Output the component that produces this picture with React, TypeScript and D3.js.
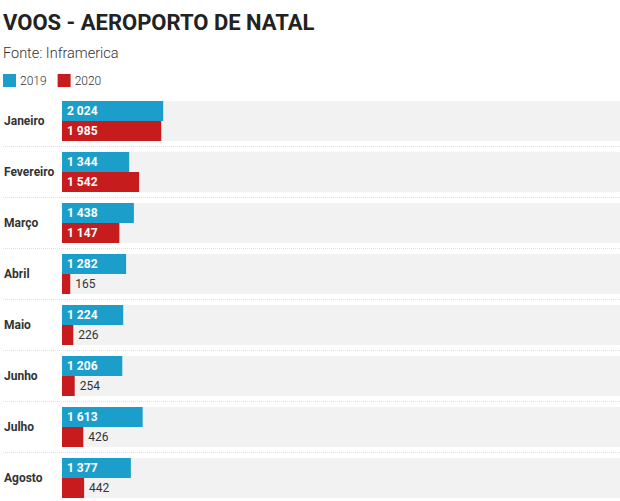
import * as d3 from "d3";
import { useEffect, useRef } from "react";

const months = ["Janeiro", "Fevereiro", "Março", "Abril", "Maio", "Junho", "Julho", "Agosto"];
const voos2019 = [2024, 1344, 1438, 1282, 1224, 1206, 1613, 1377];
const voos2020 = [1985, 1542, 1147, 165, 226, 254, 426, 442];
const seriesNames = ["2019", "2020"];
const colors = ["#1b9fca", "#c71c1e"];

const fmt = (v: number) => d3.format(",")(v).replace(/,/g, " ");

export default function App() {
  const svgRef = useRef<SVGSVGElement | null>(null);

  useEffect(() => {
    if (!svgRef.current) return;
    const svg = d3.select(svgRef.current);
    svg.selectAll("*").remove();

    const width = 620;
    const height = 501;
    const left = 62;
    const top = 101;
    const rowStep = 51;
    const barH = 20;

    svg.attr("width", width).attr("height", height).style("font-family", "Roboto, sans-serif");

    // title
    svg.append("text")
      .attr("x", 3).attr("y", 30)
      .attr("font-size", 22).attr("font-weight", 700).attr("fill", "#222")
      .text("VOOS - AEROPORTO DE NATAL");

    svg.append("text")
      .attr("x", 3).attr("y", 58)
      .attr("font-size", 14.5).attr("font-weight", 300).attr("fill", "#333")
      .text("Fonte: Inframerica");

    // legend
    const legend = svg.append("g").attr("transform", "translate(3,74)");
    let lx = 0;
    seriesNames.forEach((name, i) => {
      legend.append("rect").attr("x", lx).attr("y", 0).attr("width", 13).attr("height", 13).attr("fill", colors[i]);
      const t = legend.append("text")
        .attr("x", lx + 17).attr("y", 11)
        .attr("font-size", 12).attr("font-weight", 300).attr("fill", "#333")
        .text(name);
      const w = (t.node() as SVGTextElement).getComputedTextLength();
      lx += 17 + w + 11;
    });

    const x = d3.scaleLinear().domain([0, 11160]).range([0, width - left]);
    const y = d3.scaleBand().domain(months).range([top, top + rowStep * months.length]).paddingInner(0);

    const rows = svg.selectAll("g.row")
      .data(months)
      .enter()
      .append("g")
      .attr("class", "row")
      .attr("transform", (m) => `translate(0,${y(m)})`);

    rows.append("rect")
      .attr("x", left).attr("y", 0)
      .attr("width", width - left).attr("height", barH * 2)
      .attr("fill", "#f2f2f2");

    rows.filter((_, i) => i < months.length - 1)
      .append("line")
      .attr("x1", 3).attr("x2", width)
      .attr("y1", barH * 2 + 5.5).attr("y2", barH * 2 + 5.5)
      .attr("stroke", "#e0e0e0").attr("stroke-width", 1)
      .attr("stroke-dasharray", "1,1");

    rows.append("text")
      .attr("x", 4).attr("y", barH)
      .attr("dy", "0.35em")
      .attr("font-size", 12).attr("font-weight", 700).attr("fill", "#333")
      .text((m) => m);

    [voos2019, voos2020].forEach((series, s) => {
      rows.append("rect")
        .attr("x", left).attr("y", s * barH)
        .attr("width", (_, i) => x(series[i]))
        .attr("height", barH)
        .attr("fill", colors[s]);

      rows.append("text")
        .attr("x", (_, i) => (series[i] > 1000 ? left + 5 : left + x(series[i]) + 5))
        .attr("y", s * barH + barH / 2)
        .attr("dy", "0.35em")
        .attr("font-size", 12)
        .attr("font-weight", (_, i) => (series[i] > 1000 ? 700 : 400))
        .attr("fill", (_, i) => (series[i] > 1000 ? "#fff" : "#333"))
        .text((_, i) => fmt(series[i]));
    });
  }, []);

  return (
    <div style={{ position: "absolute", left: 0, top: 0, background: "#fff" }}>
      <svg ref={svgRef} style={{ display: "block" }}></svg>
    </div>
  );
}
